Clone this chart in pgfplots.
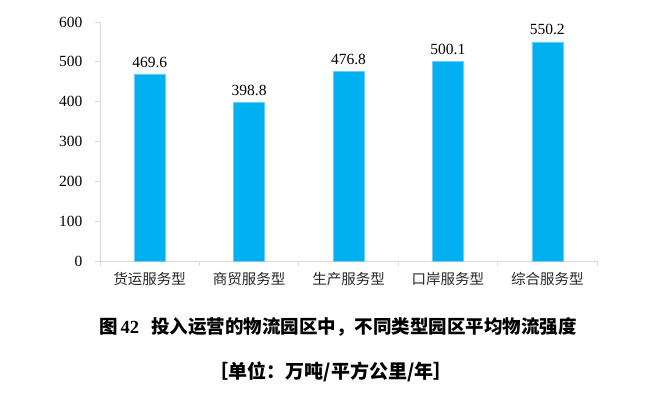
\documentclass[border=0pt]{standalone}
\usepackage{pgfplots}
\pgfplotsset{compat=1.18}
\usepackage{fontspec}
\setmainfont{Liberation Serif}
\newfontfamily\cjk{Noto Sans CJK SC}
\definecolor{barblue}{HTML}{00B0F0}
\definecolor{baredge}{HTML}{6FCCF3}
\definecolor{axgray}{HTML}{D9D9D9}
\begin{document}
\begin{tikzpicture}
\useasboundingbox (-100pt,-132pt) rectangle (560pt,261pt);
\begin{axis}[
  at={(0pt,0pt)}, anchor=south west,
  scale only axis, width=497pt, height=239pt,
  xmin=-0.5, xmax=4.5, ymin=0, ymax=600,
  axis x line*=bottom, axis y line*=left,
  axis line style={axgray, line width=0.8pt},
  xtick={-0.5,0.5,1.5,2.5,3.5,4.5},
  x tick label as interval,
  xticklabels={货运服务型,商贸服务型,生产服务型,口岸服务型,综合服务型},
  xticklabel style={font=\cjk\fontsize{14.5}{16}\selectfont, text=black!85, yshift=-3pt},
  ytick={0,100,200,300,400,500,600},
  yticklabel style={font=\fontsize{15.5}{17}\selectfont, text=black, xshift=-9pt},
  /pgf/number format/assume math mode=true,
  tick align=outside, major tick length=5pt,
  tick style={axgray, line width=0.8pt},
  clip=false,
]
\addplot[ybar, bar width=31pt, fill=barblue, draw=baredge, line width=0.6pt,
  nodes near coords,
  nodes near coords style={font=\fontsize{15.5}{17}\selectfont, text=black, yshift=3pt},
  point meta=explicit symbolic]
  coordinates {(0,469.6)[469.6] (1,398.8)[398.8] (2,476.8)[476.8] (3,500.1)[500.1] (4,550.2)[550.2]};
\end{axis}
\node[font=\fontsize{18.5}{21}\selectfont\bfseries] at (338pt-100pt,-66pt)
  {{\cjk\bfseries 图}\,42\enspace\,{\cjk\bfseries 投入运营的物流园区中，不同类型园区平均物流强度}};
\node[font=\cjk\fontsize{19}{21}\selectfont\bfseries] at (231pt,-111pt)
  {［单位：万吨/平方公里/年］};
\end{tikzpicture}
\end{document}
